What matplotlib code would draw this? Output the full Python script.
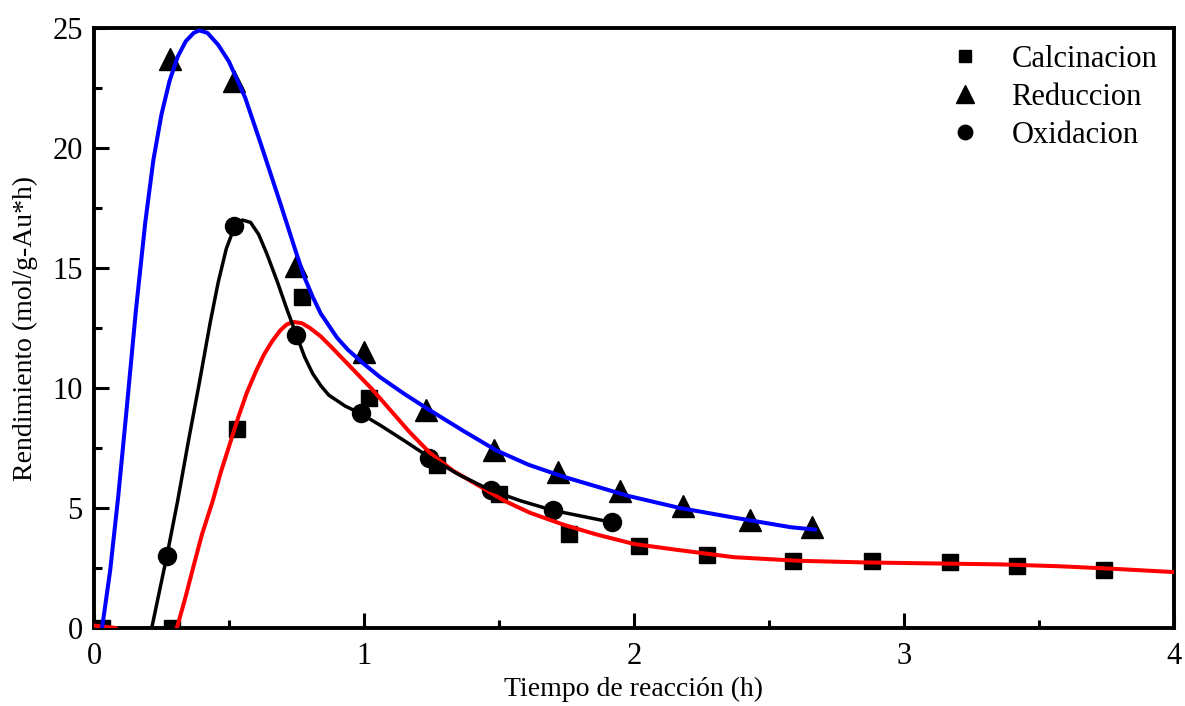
import matplotlib
matplotlib.use("Agg")
import matplotlib.pyplot as plt
from matplotlib.ticker import MultipleLocator

plt.rcParams["font.family"] = ["Liberation Serif", "DejaVu Serif"]

# -- measured points --------------------------------------------------
CALC_X = [0.03, 0.29, 0.53, 0.77, 1.02, 1.27, 1.50, 1.76, 2.02, 2.27, 2.59, 2.88, 3.17, 3.42, 3.74]
CALC_Y = [0.0, 0.0, 8.3, 13.8, 9.6, 6.8, 5.6, 3.9, 3.4, 3.05, 2.8, 2.8, 2.75, 2.6, 2.4]

RED_X = [0.28, 0.52, 0.75, 1.00, 1.23, 1.48, 1.72, 1.95, 2.18, 2.43, 2.66]
RED_Y = [23.7, 22.8, 15.1, 11.5, 9.1, 7.4, 6.5, 5.7, 5.1, 4.5, 4.2]

OXI_X = [0.27, 0.52, 0.75, 0.99, 1.24, 1.47, 1.70, 1.92]
OXI_Y = [3.0, 16.75, 12.2, 8.95, 7.1, 5.75, 4.9, 4.4]

# -- fitted curves ----------------------------------------------------
FIT_CALC_X = [0.0, 0.08, 0.2, 0.307, 0.337, 0.367, 0.40, 0.44, 0.47, 0.504, 0.535, 0.566,
              0.60, 0.63, 0.66, 0.69, 0.714, 0.74, 0.77, 0.80, 0.84, 0.88, 0.91, 0.97,
              1.03, 1.10, 1.17, 1.244, 1.33, 1.43, 1.52, 1.615, 1.74, 1.86, 2.0, 2.15,
              2.37, 2.61, 2.86, 3.11, 3.36, 3.58, 3.77, 4.0]
FIT_CALC_Y = [0.1, 0.0, -1.5, 0.0, 1.2, 2.5, 3.9, 5.3, 6.5, 7.7, 8.8, 9.8,
              10.7, 11.4, 11.95, 12.4, 12.65, 12.75, 12.7, 12.5, 12.15, 11.7, 11.35, 10.65,
              9.95, 9.05, 8.15, 7.3, 6.55, 5.9, 5.3, 4.8, 4.3, 3.9, 3.5, 3.27,
              2.95, 2.8, 2.73, 2.69, 2.65, 2.57, 2.47, 2.33]

FIT_RED_X = [0.03, 0.06, 0.09, 0.12, 0.155, 0.19, 0.22, 0.25, 0.28, 0.31, 0.34, 0.37,
             0.39, 0.42, 0.46, 0.50, 0.56, 0.62, 0.69, 0.75, 0.78, 0.81, 0.84, 0.87,
             0.90, 0.94, 1.0, 1.06, 1.15, 1.24, 1.37, 1.49, 1.61, 1.74, 1.86, 1.98,
             2.17, 2.37, 2.58, 2.67]
FIT_RED_Y = [0.0, 2.4, 5.5, 9.0, 13.2, 16.9, 19.5, 21.4, 22.8, 23.8, 24.45, 24.8,
             24.9, 24.8, 24.3, 23.6, 22.1, 20.1, 17.7, 15.6, 14.6, 13.8, 13.1, 12.6,
             12.1, 11.6, 11.0, 10.45, 9.75, 9.1, 8.2, 7.4, 6.8, 6.3, 5.9, 5.5,
             5.0, 4.6, 4.2, 4.1]

FIT_OXI_X = [0.19, 0.214, 0.24, 0.27, 0.31, 0.35, 0.39, 0.43, 0.46, 0.49, 0.52, 0.55,
             0.58, 0.61, 0.64, 0.68, 0.714, 0.75, 0.78, 0.81, 0.84, 0.87, 0.93, 0.985,
             1.06, 1.15, 1.244, 1.35, 1.467, 1.58, 1.70, 1.81, 1.92]
FIT_OXI_Y = [-1.5, 0.0, 1.4, 3.0, 5.3, 7.8, 10.2, 12.7, 14.4, 15.8, 16.7, 17.0,
             16.9, 16.4, 15.6, 14.4, 13.3, 12.2, 11.3, 10.6, 10.1, 9.7, 9.25, 8.95,
             8.45, 7.8, 7.1, 6.4, 5.75, 5.3, 4.9, 4.65, 4.4]

FS_TICK = 22
FS_LABEL = 20

fig = plt.figure(figsize=(11.85, 7.06), dpi=100)
ax = fig.add_axes([0.0793, 0.1105, 0.9114, 0.8498])

ax.plot(CALC_X, CALC_Y, "s", color="black", ms=11.5, ls="none", label="Calcinacion", zorder=2)
ax.plot(RED_X, RED_Y, "^", color="black", ms=15.5, ls="none", label="Reduccion", zorder=2)
ax.plot(OXI_X, OXI_Y, "o", color="black", ms=13, ls="none", label="Oxidacion", zorder=2)

ax.plot(FIT_CALC_X, FIT_CALC_Y, color="#ff0000", lw=2.9, zorder=3)
ax.plot(FIT_RED_X, FIT_RED_Y, color="#0000ff", lw=2.9, zorder=3)
ax.plot(FIT_OXI_X, FIT_OXI_Y, color="black", lw=2.5, zorder=3)

ax.set_xlim(0, 4)
ax.set_ylim(0, 25)
ax.xaxis.set_major_locator(MultipleLocator(1))
ax.xaxis.set_minor_locator(MultipleLocator(0.5))
ax.yaxis.set_major_locator(MultipleLocator(5))
ax.yaxis.set_minor_locator(MultipleLocator(2.5))

for s in ax.spines.values():
    s.set_linewidth(2.8)
ax.tick_params(axis="x", which="major", direction="in", length=11, width=2.2,
               labelsize=FS_TICK, pad=10)
ax.tick_params(axis="x", which="minor", direction="in", length=6, width=2.2)
ax.tick_params(axis="y", which="major", direction="in", length=11, width=2.2,
               labelsize=FS_TICK, pad=8)
ax.tick_params(axis="y", which="minor", direction="in", length=6, width=2.2)

ax.set_xlabel("Tiempo de reacción (h)", fontsize=FS_LABEL, labelpad=4)
ax.set_ylabel("Rendimiento (mol/g-Au*h)", fontsize=FS_LABEL, labelpad=10)

ax.legend(loc="upper right", frameon=False, fontsize=FS_TICK, handlelength=1.2,
          handletextpad=0.9, labelspacing=0.3, borderaxespad=0.15, markerscale=0.8)

fig.savefig("out.png", dpi=100)
